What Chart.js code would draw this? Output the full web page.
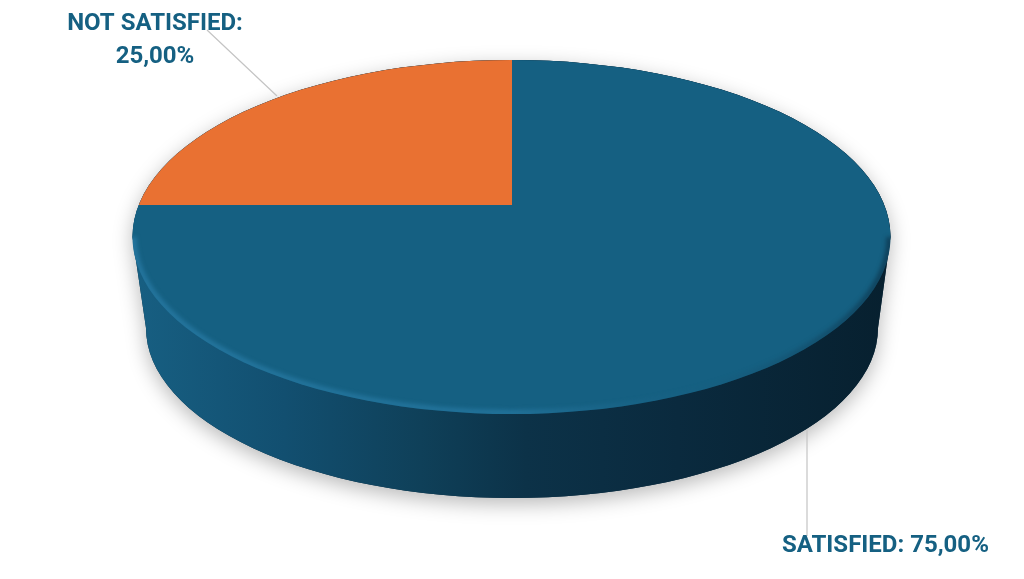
<!DOCTYPE html>
<html>
<head>
<meta charset="utf-8">
<style>
  html, body { margin: 0; padding: 0; background: #fff; }
  canvas { display: block; }
</style>
<script src="https://cdn.jsdelivr.net/npm/chart.js@4"></script>
</head>
<body>
<canvas id="pie" width="1024" height="579"></canvas>
<script>
const categories = ['SATISFIED', 'NOT SATISFIED'];
const shares = [75, 25];
const sliceColors = ['#156082', '#E97132'];

// look of the tilted disc
const rim = { x: 511.5, y: 237, rx: 379, ry: 177 };
const floorRim = { x: 512, y: 328, rx: 366, ry: 170 };
const pivot = { x: 512, y: 205 };
const squash = rim.ry / rim.rx;

function fmt(v) {
    return v.toFixed(2).replace('.', ',') + '%';
}

function ellipsePath(ctx, e) {
    ctx.beginPath();
    ctx.ellipse(e.x, e.y, e.rx, e.ry, 0, 0, Math.PI * 2);
}

function bodyPath(ctx) {
    ctx.beginPath();
    ctx.ellipse(floorRim.x, floorRim.y, floorRim.rx, floorRim.ry, 0, 0, Math.PI);
    ctx.lineTo(rim.x - rim.rx, rim.y);
    ctx.ellipse(rim.x, rim.y, rim.rx, rim.ry, 0, Math.PI, Math.PI * 2);
    ctx.closePath();
}

const disc = {
    id: 'disc',
    beforeDatasetsDraw(chart) {
        const ctx = chart.ctx;
        ctx.save();
        // soft shadow on the floor
        ctx.shadowColor = 'rgba(0,0,0,0.28)';
        ctx.shadowBlur = 20;
        ctx.shadowOffsetY = 6;
        ctx.fillStyle = '#0a2a3e';
        bodyPath(ctx);
        ctx.fill();
        ctx.restore();

        // side wall
        ctx.save();
        const g = ctx.createLinearGradient(133, 0, 890, 0);
        g.addColorStop(0, '#175f82');
        g.addColorStop(0.2, '#124f70');
        g.addColorStop(0.38, '#0f4059');
        g.addColorStop(0.52, '#0c3248');
        g.addColorStop(0.72, '#0a2a3e');
        g.addColorStop(1, '#07202f');
        ctx.fillStyle = g;
        bodyPath(ctx);
        ctx.fill();
        ctx.restore();
    },
    beforeDatasetDraw(chart, args) {
        const ctx = chart.ctx;
        const arc = args.meta.data[0];
        ctx.save();
        ellipsePath(ctx, rim);
        ctx.clip();
        ctx.translate(pivot.x, pivot.y);
        ctx.scale(1, squash);
        ctx.translate(-arc.x, -arc.y);
    },
    afterDatasetDraw(chart) {
        chart.ctx.restore();
    },
    afterDatasetsDraw(chart) {
        const ctx = chart.ctx;
        ctx.save();
        // bevel along the front rim, light on the left and fading to the right
        ellipsePath(ctx, rim);
        ctx.clip();
        const g = ctx.createLinearGradient(133, 0, 890, 0);
        g.addColorStop(0, 'rgba(42,125,168,0.75)');
        g.addColorStop(0.5, 'rgba(42,125,168,0.65)');
        g.addColorStop(0.72, 'rgba(30,100,135,0.15)');
        g.addColorStop(1, 'rgba(10,40,60,0.6)');
        ctx.strokeStyle = g;
        ctx.lineWidth = 6;
        ctx.filter = 'blur(2px)';
        ctx.beginPath();
        ctx.ellipse(rim.x, rim.y, rim.rx - 1, rim.ry - 1, 0, 0, Math.PI);
        ctx.stroke();
        ctx.restore();
    },
    afterDraw(chart) {
        const ctx = chart.ctx;
        ctx.save();
        // leader lines
        ctx.strokeStyle = '#c4c4c4';
        ctx.lineWidth = 1.2;
        ctx.beginPath();
        ctx.moveTo(207, 30);
        ctx.lineTo(277, 96);
        ctx.moveTo(807, 430);
        ctx.lineTo(807, 536);
        ctx.stroke();

        ctx.fillStyle = '#156082';
        ctx.font = 'bold 24px Roboto';
        ctx.textBaseline = 'alphabetic';
        ctx.textAlign = 'center';
        ctx.fillText(categories[1] + ':', 155, 30);
        ctx.fillText(fmt(shares[1]), 155, 63);
        ctx.textAlign = 'left';
        ctx.fillText(categories[0] + ': ' + fmt(shares[0]), 782, 552);
        ctx.restore();
    }
};

new Chart(document.getElementById('pie'), {
    type: 'pie',
    data: {
        labels: categories,
        datasets: [{
            data: shares,
            backgroundColor: sliceColors,
            borderWidth: 0,
            clip: false
        }]
    },
    options: {
        responsive: false,
        animation: false,
        radius: 900,
        plugins: {
            legend: { display: false },
            tooltip: { enabled: false }
        }
    },
    plugins: [disc]
});
</script>
</body>
</html>
